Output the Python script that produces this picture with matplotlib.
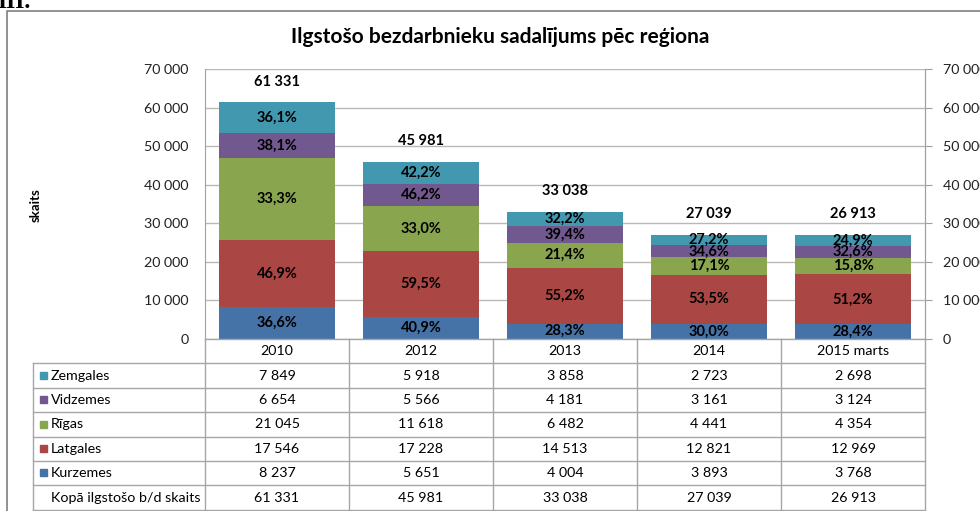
import matplotlib.pyplot as plt
import numpy as np

plt.rcParams['font.family'] = ['Lato', 'DejaVu Sans']

# data
categories = ['2010', '2012', '2013', '2014', '2015 marts']
regions = ['Kurzemes', 'Latgales', 'Rīgas', 'Vidzemes', 'Zemgales']
kurzemes = [8237, 5651, 4004, 3893, 3768]
latgales = [17546, 17228, 14513, 12821, 12969]
rigas = [21045, 11618, 6482, 4441, 4354]
vidzemes = [6654, 5566, 4181, 3161, 3124]
zemgales = [7849, 5918, 3858, 2723, 2698]
totals = [61331, 45981, 33038, 27039, 26913]
total_label = 'Kopā ilgstošo b/d skaits'

pct_kurzemes = ['36,6%', '40,9%', '28,3%', '30,0%', '28,4%']
pct_latgales = ['46,9%', '59,5%', '55,2%', '53,5%', '51,2%']
pct_rigas = ['33,3%', '33,0%', '21,4%', '17,1%', '15,8%']
pct_vidzemes = ['38,1%', '46,2%', '39,4%', '34,6%', '32,6%']
pct_zemgales = ['36,1%', '42,2%', '32,2%', '27,2%', '24,9%']

colors = ['#4572A7', '#AA4643', '#89A54E', '#71588F', '#4198AF']
yticks = np.arange(0, 70001, 10000)

series = [kurzemes, latgales, rigas, vidzemes, zemgales]
pcts = [pct_kurzemes, pct_latgales, pct_rigas, pct_vidzemes, pct_zemgales]


def fmt(v):
    return f'{v:,}'.replace(',', ' ')


W, H = 980, 511
fig = plt.figure(figsize=(W / 100, H / 100), dpi=100)
fig.patch.set_facecolor('white')

# plot area in pixels
px0, px1, py0, py1 = 205, 925, 69, 339
ax = fig.add_axes([px0 / W, 1 - py1 / H, (px1 - px0) / W, (py1 - py0) / H])
x = np.arange(len(categories))
bottom = np.zeros(len(categories))
for vals, pc, col in zip(series, pcts, colors):
    vals = np.array(vals)
    ax.bar(x, vals, width=0.81, bottom=bottom, color=col, zorder=3)
    for xi, b, v, t in zip(x, bottom, vals, pc):
        ax.text(xi, b + v / 2, t, ha='center', va='center', fontsize=10.5,
                fontweight='bold', color='black', zorder=4)
    bottom += vals

for xi, t in zip(x, totals):
    ax.annotate(fmt(t), (xi, t), xytext=(0, 15), textcoords='offset points',
                ha='center', va='center', fontsize=10.5, fontweight='bold')

ax.set_xlim(-0.5, len(categories) - 0.5)
ax.set_ylim(0, 70000)
ax.set_yticks(yticks)
ax.set_yticklabels([fmt(v) for v in yticks], fontsize=10.3, color='#222222')
ax.set_xticks([])
ax.tick_params(axis='y', length=0, pad=12)
ax.grid(axis='y', color='#B8B8B8', linewidth=1, zorder=0)
for s in ['top', 'bottom']:
    ax.spines[s].set_visible(False)
ax.spines['left'].set_color('#A0A0A0')
ax.spines['right'].set_color('#A0A0A0')

ax2 = ax.twinx()
ax2.set_ylim(0, 70000)
ax2.set_yticks(yticks)
ax2.set_yticklabels([fmt(v) for v in yticks], fontsize=10.3, color='#222222')
ax2.tick_params(axis='y', length=5, color='#A0A0A0', pad=8)
for s in ['top', 'bottom', 'left']:
    ax2.spines[s].set_visible(False)
ax2.spines['right'].set_color('#A0A0A0')

# overlay in pixel coordinates for frame, title and data table
ov = fig.add_axes([0, 0, 1, 1])
ov.set_xlim(0, W)
ov.set_ylim(H, 0)
ov.axis('off')
ov.patch.set_visible(False)

ov.plot([7, 7, W + 5], [H + 5, 11, 11], color='#7F7F7F', lw=1.2, clip_on=False)
ov.text(-3, 8, 'III.', fontsize=17, fontweight='bold', family='Liberation Serif',
        va='baseline', ha='left')
ov.text(500, 37, 'Ilgstošo bezdarbnieku sadalījums pēc reģiona', fontsize=15,
        fontweight='bold', ha='center', va='center')
ov.text(36, 205, 'skaits', rotation=90, fontsize=9.5, fontweight='bold',
        ha='center', va='center')

grid_col = '#A6A6A6'
tab_x0 = 33
col_w = (px1 - px0) / len(categories)
row_y = [363, 388, 412, 437, 461, 485, 510]
ov.plot([px0, px1], [py1, py1], color=grid_col, lw=1)
for y in row_y:
    ov.plot([tab_x0, px1], [y, y], color=grid_col, lw=1)
ov.plot([tab_x0, tab_x0], [row_y[0], row_y[-1]], color=grid_col, lw=1)
for i in range(len(categories) + 1):
    xe = px0 + i * col_w
    ov.plot([xe, xe], [py1, row_y[-1]], color=grid_col, lw=1)

for i, c in enumerate(categories):
    ov.text(px0 + (i + 0.5) * col_w, (py1 + row_y[0]) / 2, c, ha='center',
            va='center', fontsize=10.3)

rows = list(zip(regions, series, colors))[::-1] + [(total_label, totals, None)]
for r, (name, vals, col) in enumerate(rows):
    yc = (row_y[r] + row_y[r + 1]) / 2
    if col is not None:
        ov.add_patch(plt.Rectangle((40, yc - 3.5), 7, 7, color=col))
    ov.text(51, yc, name, ha='left', va='center', fontsize=10.3)
    for i, v in enumerate(vals):
        ov.text(px0 + (i + 0.5) * col_w, yc, fmt(v), ha='center', va='center',
                fontsize=10.3)

fig.savefig('out.png', dpi=100)
